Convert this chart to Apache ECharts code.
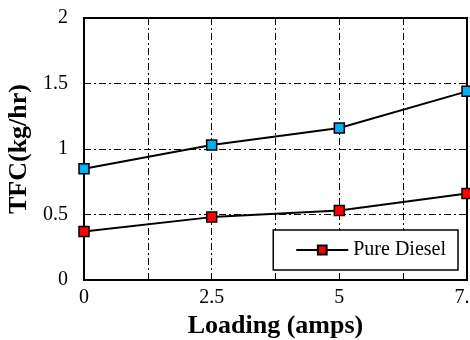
<!DOCTYPE html>
<html><head><meta charset="utf-8">
<script src="https://cdn.jsdelivr.net/npm/echarts@6/dist/echarts.min.js"></script>
<style>html,body{margin:0;padding:0;background:#fff;overflow:hidden}#c{width:470px;height:340px}</style>
</head><body><div id="c"></div>
<script>
const loading = [0, 2.5, 5, 7.5];
const seriesBlue = [0.85, 1.03, 1.16, 1.44];
const pureDiesel = [0.37, 0.48, 0.53, 0.66];
const xTickLabels = ['0', '2.5', '5', '7.5'];
const yTickLabels = ['0', '0.5', '1', '1.5', '2'];

const chart = echarts.init(document.getElementById('c'));
const font = '"Liberation Serif", "Times New Roman", serif';
const dashDot = [7, 3, 2, 3];
chart.setOption({
  animation: false,
  textStyle: { fontFamily: font },
  grid: { left: 84, right: 3, top: 18, bottom: 60, show: true, borderColor: '#000', borderWidth: 2, backgroundColor: 'transparent', outerBoundsMode: 'none', containLabel: false },
  legend: {
    data: ['Pure Diesel'],
    right: 12, bottom: 70,
    orient: 'vertical',
    borderColor: '#000', borderWidth: 1.5, borderRadius: 0,
    backgroundColor: '#fff',
    padding: [10, 12, 10, 22],
    itemWidth: 52, itemHeight: 11, itemGap: 6,
    textStyle: { fontFamily: font, fontSize: 20, color: '#000', padding: [0, 0, 0, 0] }
  },
  xAxis: {
    type: 'value', min: 0, max: 7.5, interval: 1.25,
    name: 'Loading (amps)', nameLocation: 'middle', nameGap: 28,
    nameTextStyle: { fontFamily: font, fontSize: 26, fontWeight: 'bold', color: '#000' },
    axisLine: { show: true, lineStyle: { color: '#000', width: 2 } },
    axisTick: { show: false },
    axisLabel: {
      fontFamily: font, fontSize: 20, color: '#000', margin: 8, showMaxLabel: true, hideOverlap: false,
      formatter: function (v) {
        const i = loading.indexOf(v);
        return i >= 0 ? xTickLabels[i] : '';
      }
    },
    splitLine: { show: true, lineStyle: { color: '#000', width: 1, type: dashDot } }
  },
  yAxis: {
    type: 'value', min: 0, max: 2, interval: 0.5,
    name: 'TFC(kg/hr)', nameLocation: 'middle', nameGap: 46,
    nameTextStyle: { fontFamily: font, fontSize: 26, fontWeight: 'bold', color: '#000' },
    axisLine: { show: true, lineStyle: { color: '#000', width: 2 } },
    axisTick: { show: false },
    axisLabel: {
      fontFamily: font, fontSize: 20, color: '#000', margin: 16,
      formatter: function (v) { return yTickLabels[Math.round(v / 0.5)]; }
    },
    splitLine: { show: true, lineStyle: { color: '#000', width: 1, type: dashDot } }
  },
  series: [
    {
      name: 'Blend', type: 'line',
      data: loading.map((x, i) => [x, seriesBlue[i]]),
      symbol: 'rect', symbolSize: 10,
      lineStyle: { color: '#000', width: 2 },
      itemStyle: { color: '#00B0F0', borderColor: '#000', borderWidth: 1.5 },
      z: 3
    },
    {
      name: 'Pure Diesel', type: 'line',
      data: loading.map((x, i) => [x, pureDiesel[i]]),
      symbol: 'rect', symbolSize: 10,
      lineStyle: { color: '#000', width: 2 },
      itemStyle: { color: '#FF0000', borderColor: '#000', borderWidth: 1.5 },
      z: 3
    }
  ]
});
</script></body></html>
